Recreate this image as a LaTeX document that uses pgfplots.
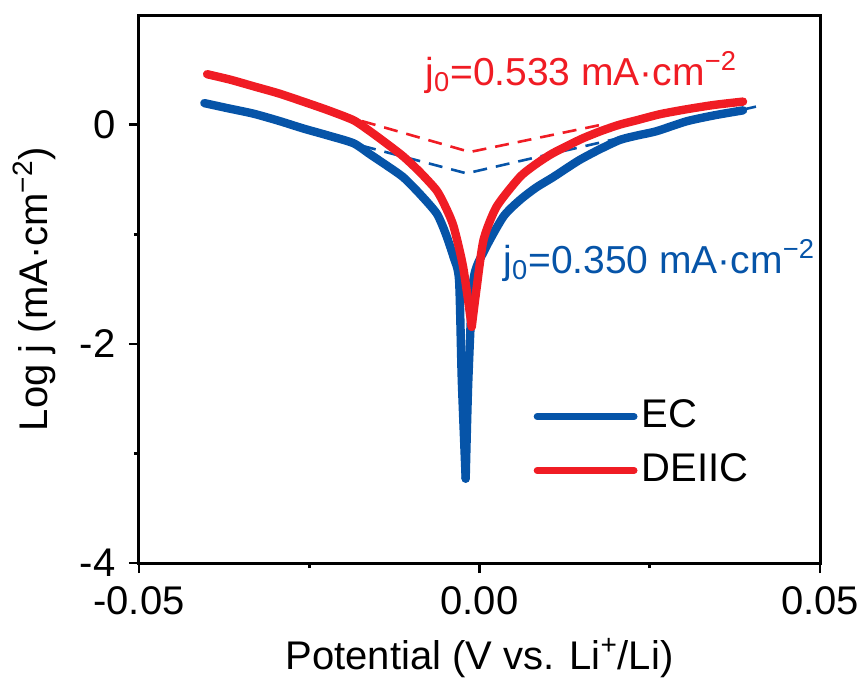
\documentclass[border=0pt]{standalone}
\usepackage{fontspec}
\setmainfont{Liberation Sans}
\usepackage{pgfplots}
\pgfplotsset{compat=1.18}
\definecolor{ecblue}{RGB}{6,84,168}
\definecolor{dred}{RGB}{240,28,36}
\begin{document}
\fontsize{20}{24}\selectfont
\begin{tikzpicture}
\useasboundingbox (-69.5pt,-64pt) rectangle (361.5pt,281.5pt);
\begin{axis}[
  at={(0pt,0pt)}, anchor=south west,
  scale only axis, width=340.5pt, height=274pt,
  xmin=-0.05, xmax=0.05, ymin=-4, ymax=1,
  scaled x ticks=false, scaled y ticks=false,
  xtick={-0.05,0,0.05}, xticklabels={-0.05,0.00,0.05},
  minor xtick={-0.025,0.025},
  ytick={-4,-2,0}, yticklabels={-4,-2,0},
  minor ytick={-3,-1},
  tick pos=left, tick align=outside,
  major tick length=5pt, minor tick length=2.5pt,
  tick style={black, line width=1.3pt},
  axis line style={line width=1.5pt},
  xlabel={Potential (V vs. Li\textsuperscript{+}/Li)},
  ylabel={Log j (mA·cm\textsuperscript{−2})},
  xlabel style={at={(axis description cs:0.5,-0.195)}, anchor=base},
  ylabel style={at={(axis description cs:-0.135,0.5)}, anchor=base},
  legend style={at={(axis cs:0.0079,-2.91)}, anchor=west, draw=none, fill=none,
    inner sep=0pt, row sep=6pt, nodes={inner sep=2pt}},
  legend cell align=left,
  legend image code/.code={\draw[#1, line width=3.4pt, line cap=round] (0pt,0pt) -- (48.5pt,0pt);},
]
% Tafel extrapolation lines
\addplot[ecblue, line width=1.3pt, dash pattern=on 7pt off 4.5pt, forget plot]
  coordinates {(-0.0205,-0.14) (-0.0019,-0.445) (0.0417,0.18)};
\addplot[dred, line width=1.3pt, dash pattern=on 7pt off 4.5pt, forget plot]
  coordinates {(-0.0205,0.09) (-0.0014,-0.25) (0.0180,0.0)};
% EC
\addplot[ecblue, line width=4.2pt, line cap=round, line join=round, smooth, tension=0.4] coordinates {
  (-0.0404,0.196) (-0.0370,0.150) (-0.0332,0.100) (-0.0295,0.035) (-0.0259,-0.035)
  (-0.0222,-0.100) (-0.0185,-0.170) (-0.0161,-0.270) (-0.0137,-0.370) (-0.0112,-0.480)
  (-0.0088,-0.630) (-0.0063,-0.810) (-0.0050,-0.990) (-0.0038,-1.210) (-0.0030,-1.420)
  (-0.0026,-2.330) (-0.00203,-3.230)};
\addlegendentry{EC}
\addplot[ecblue, line width=4.2pt, line cap=round, line join=round, smooth, tension=0.4, forget plot] coordinates {
  (-0.00203,-3.230) (-0.00164,-2.330) (-0.0009,-1.420) (0.0007,-1.150)
  (0.0035,-0.840) (0.0059,-0.690) (0.0083,-0.575) (0.0108,-0.480) (0.0145,-0.330)
  (0.0175,-0.230) (0.0206,-0.140) (0.0231,-0.100) (0.0260,-0.060) (0.0304,0.030)
  (0.0345,0.085) (0.0387,0.130)};
% DEIIC
\addplot[dred, line width=4.2pt, line cap=round, line join=round, smooth, tension=0.4] coordinates {
  (-0.0400,0.460) (-0.0366,0.410) (-0.0332,0.350) (-0.0295,0.285) (-0.0259,0.210)
  (-0.0222,0.130) (-0.0185,0.040) (-0.0161,-0.060) (-0.0137,-0.170) (-0.0112,-0.290)
  (-0.0088,-0.430) (-0.0063,-0.600) (-0.0050,-0.750) (-0.0038,-0.930) (-0.0024,-1.300)
  (-0.00114,-1.845)};
\addlegendentry{DEIIC}
\addplot[dred, line width=4.2pt, line cap=round, line join=round, smooth, tension=0.4, forget plot] coordinates {
  (-0.00114,-1.845) (-0.0004,-1.480) (0.0006,-1.050) (0.0025,-0.750) (0.0059,-0.480)
  (0.0083,-0.360) (0.0108,-0.260) (0.0150,-0.130) (0.0180,-0.055) (0.0206,0.000)
  (0.0231,0.040) (0.0265,0.095) (0.0304,0.140) (0.0345,0.180) (0.0387,0.210)};
\node[dred, anchor=base west, inner sep=0pt, font=\fontsize{19.5}{23}\selectfont]
  at (axis cs:-0.0080,0.360) {j\textsubscript{0}=0.533 mA·cm\textsuperscript{−2}};
\node[ecblue, anchor=base west, inner sep=0pt, font=\fontsize{19.5}{23}\selectfont]
  at (axis cs:0.00345,-1.355) {j\textsubscript{0}=0.350 mA·cm\textsuperscript{−2}};
\end{axis}
\end{tikzpicture}
\end{document}
